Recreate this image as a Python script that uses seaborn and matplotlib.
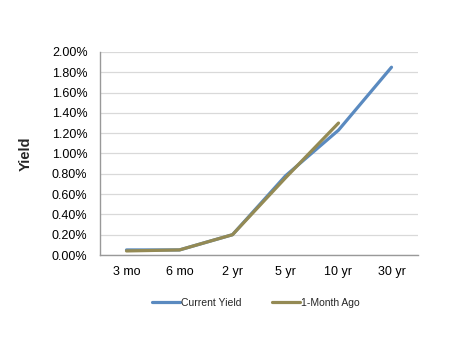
import matplotlib
matplotlib.use("Agg")
import matplotlib.pyplot as plt
from matplotlib.ticker import FuncFormatter, MultipleLocator
import seaborn as sns
import pandas as pd

maturities = ["3 mo", "6 mo", "2 yr", "5 yr", "10 yr", "30 yr"]
current_yield = [0.05, 0.05, 0.20, 0.78, 1.23, 1.85]
month_ago_maturities = ["3 mo", "6 mo", "2 yr", "5 yr", "10 yr"]
month_ago_yield = [0.04, 0.05, 0.20, 0.76, 1.30]

series_names = ["Current Yield", "1-Month Ago"]
series_colors = ["#5A8AC0", "#948A54"]

df = pd.concat([
    pd.DataFrame({"Maturity": maturities, "Yield": current_yield, "Series": series_names[0]}),
    pd.DataFrame({"Maturity": month_ago_maturities, "Yield": month_ago_yield, "Series": series_names[1]}),
])
pos = {m: i for i, m in enumerate(maturities)}
df["x"] = df["Maturity"].map(pos)

sns.set_style("white")
plt.rcParams["font.family"] = ["Liberation Sans", "DejaVu Sans"]

fig = plt.figure(figsize=(4.5, 3.41), dpi=100)
ax = fig.add_axes([100 / 450, 1 - 255 / 341, 318 / 450, 203 / 341])

sns.lineplot(data=df, x="x", y="Yield", hue="Series", hue_order=series_names,
             palette=series_colors, linewidth=2.3, ax=ax, legend=False, sort=False)

ax.set_xlim(-0.5, len(maturities) - 0.5)
ax.set_ylim(0, 2.0)
ax.set_xticks(range(len(maturities)))
ax.set_xticklabels(maturities)
ax.yaxis.set_major_locator(MultipleLocator(0.2))
ax.yaxis.set_major_formatter(FuncFormatter(lambda v, _: f"{v:.2f}%"))
ax.grid(axis="y", color="#D9D9D9", linewidth=0.9)
ax.set_axisbelow(True)
for side in ["top", "right"]:
    ax.spines[side].set_visible(False)
for side in ["left", "bottom"]:
    ax.spines[side].set_color("#999999")
    ax.spines[side].set_linewidth(1.0)
ax.tick_params(axis="both", length=0, labelsize=9, colors="black")
ax.tick_params(axis="x", pad=8)
ax.tick_params(axis="y", pad=9)
ax.set_xlabel("")
ax.set_ylabel("Yield", fontsize=10.5, fontweight="bold", labelpad=14)

handles = [plt.Line2D([], [], color=c, linewidth=2.3) for c in series_colors]
fig.legend(handles, series_names, loc="center", bbox_to_anchor=(0.569, 1 - 303 / 341),
           ncol=2, frameon=False, fontsize=7.5, handlelength=2.7, handletextpad=0.1,
           columnspacing=2.9)

fig.savefig("out.png", dpi=100)
